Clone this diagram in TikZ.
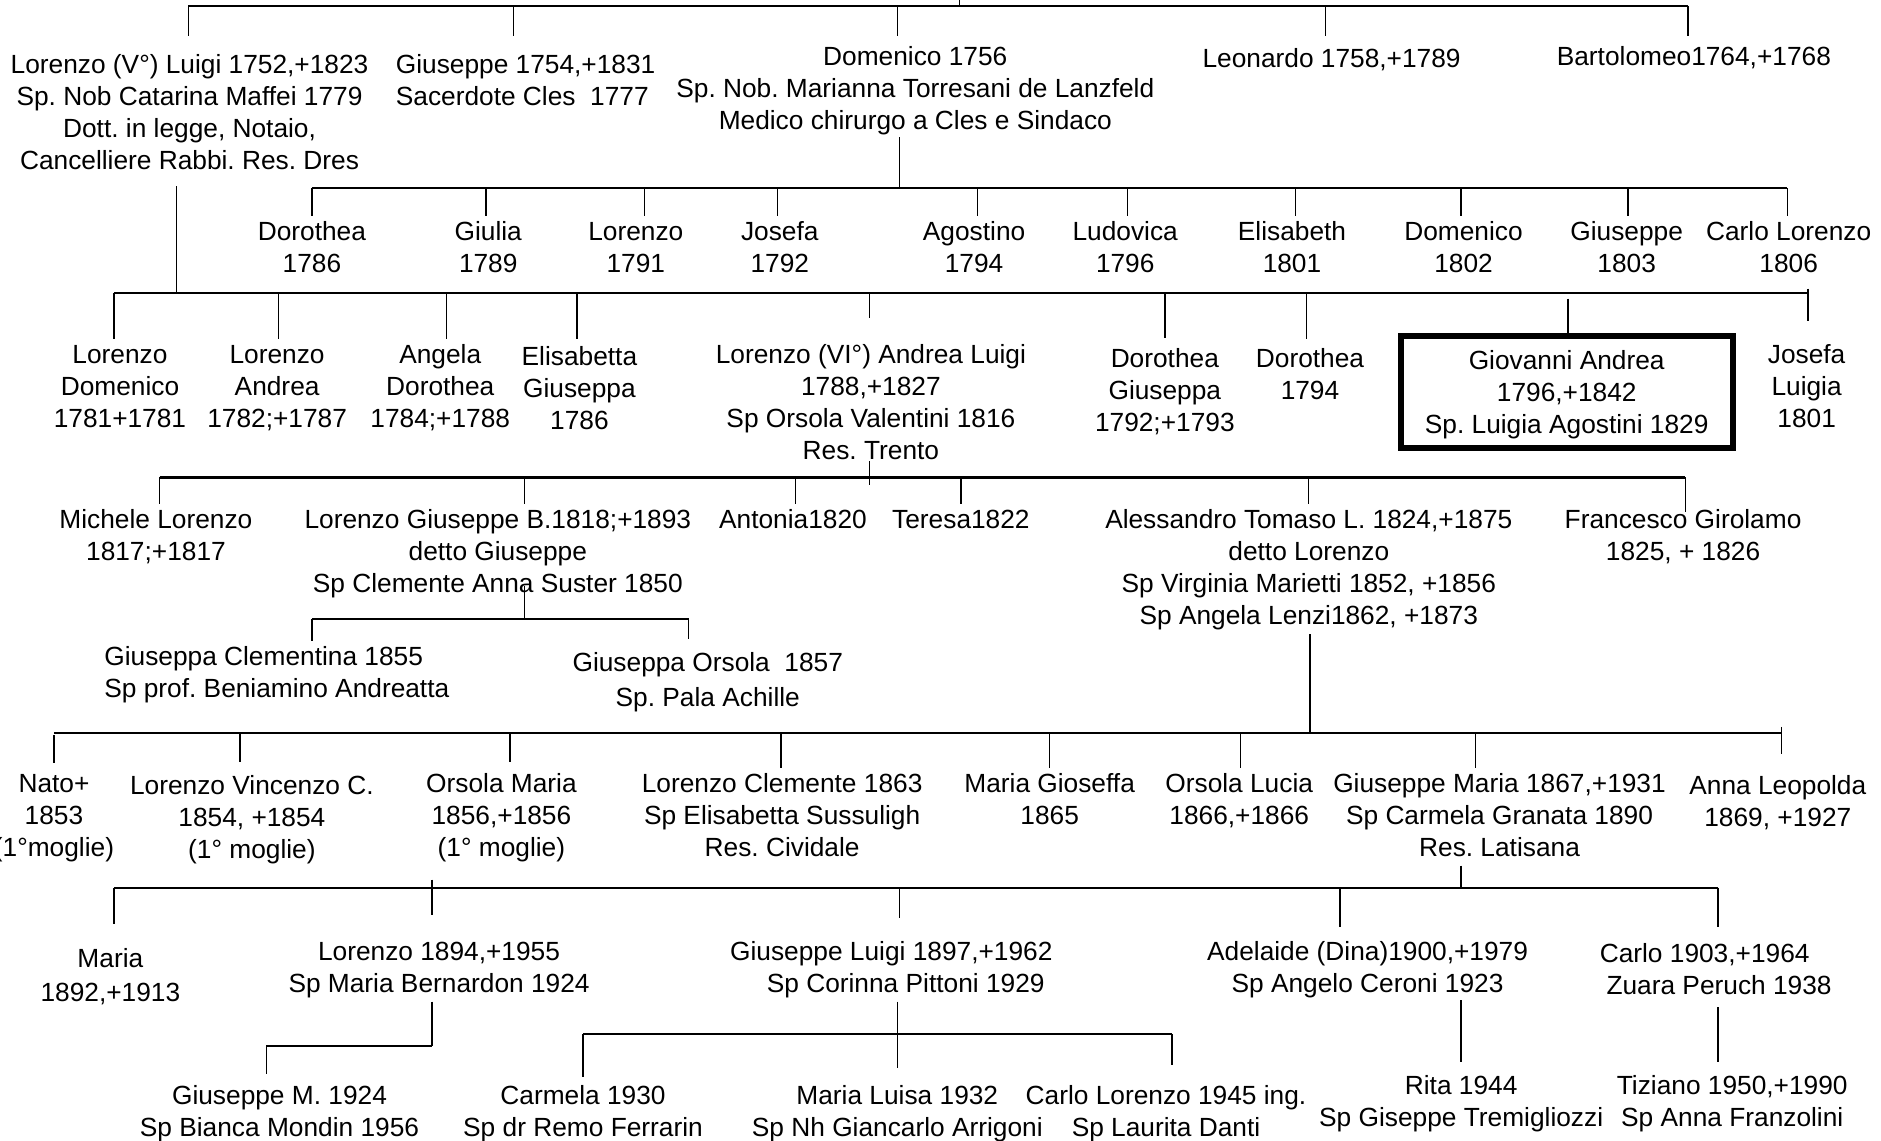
\documentclass[tikz,border=0pt]{standalone}
\usepackage{fontspec}
\setmainfont{Liberation Sans}
\frenchspacing
\newcommand\firstln{\rule{0pt}{24.4pt}}
\begin{document}
\begin{tikzpicture}[x=1.2pt,y=-1.2pt,
  every node/.style={font=\fontsize{26.3}{32}\selectfont\frenchspacing, inner sep=0pt, outer sep=0pt, align=center},
  person/.style={anchor=north},
  famline/.style={line width=2.2pt},
  conn/.style={line width=1.4pt},
  markbox/.style={draw, line width=6pt, minimum width=332pt, minimum height=112pt, outer sep=3pt}
]
\useasboundingbox (0,0) rectangle (1568,951);
\clip (0,0) rectangle (1568,951);

% ---------- generation 1
\node[person] (lv) at (158,41.3) {\firstln Lorenzo (V°) Luigi 1752,+1823\\Sp. Nob Catarina Maffei 1779\\Dott. in legge, Notaio,\\Cancelliere Rabbi. Res. Dres};
\node[person,anchor=north west,align=left] (gs) at (330,41.3) {\firstln Giuseppe 1754,+1831\\Sacerdote Cles~~1777};
\node[person] (dm) at (763,34.3) {\firstln Domenico 1756\\Sp. Nob. Marianna Torresani de Lanzfeld\\Medico chirurgo a Cles e Sindaco};
\node[person] (le) at (1110,36.3) {\firstln Leonardo 1758,+1789};
\node[person] (ba) at (1412,34.3) {\firstln Bartolomeo1764,+1768};

\coordinate (p0) at (800,0);
\coordinate (h0a) at (157,5);
\coordinate (h0b) at (428,5);
\coordinate (h0c) at (748,5);
\coordinate (h0d) at (1105,5);
\coordinate (h0e) at (1407,5);
\draw[famline] (h0a) -- (h0e);
\draw[conn] (p0) -- (p0 |- h0a);
\draw[conn,shorten >=13.6pt] (h0a) -- (h0a |- lv.north);
\draw[conn,shorten >=13.6pt] (h0b) -- (h0b |- gs.north);
\draw[conn,shorten >=5.2pt] (h0c) -- (h0c |- dm.north);
\draw[conn,shorten >=7.6pt] (h0d) -- (h0d |- le.north);
\draw[conn,shorten >=5.2pt] (h0e) -- (h0e |- ba.north);

% ---------- children of Domenico
\node[person] (d1) at (260,180.3) {\firstln Dorothea\\1786};
\node[person] (d2) at (407,180.3) {\firstln Giulia\\1789};
\node[person] (d3) at (530,180.3) {\firstln Lorenzo\\1791};
\node[person] (d4) at (650,180.3) {\firstln Josefa\\1792};
\node[person] (d5) at (812,180.3) {\firstln Agostino\\1794};
\node[person] (d6) at (938,180.3) {\firstln Ludovica\\1796};
\node[person] (d7) at (1077,180.3) {\firstln Elisabeth\\1801};
\node[person] (d8) at (1220,180.3) {\firstln Domenico\\1802};
\node[person] (d9) at (1356,180.3) {\firstln Giuseppe\\1803};
\node[person] (d10) at (1491,180.3) {\firstln Carlo Lorenzo\\1806};

\coordinate (h1x) at (750,157);
\coordinate (h1a) at (260,157);
\coordinate (h1b) at (405,157);
\coordinate (h1c) at (537,157);
\coordinate (h1d) at (648,157);
\coordinate (h1e) at (815,157);
\coordinate (h1f) at (940,157);
\coordinate (h1g) at (1080,157);
\coordinate (h1h) at (1218,157);
\coordinate (h1i) at (1357,157);
\coordinate (h1j) at (1490,157);
\draw[famline] (h1a) -- (h1j);
\draw[conn,shorten <=2.4pt] (dm.south -| h1x) -- (h1x);
\draw[conn] (h1a) -- (h1a |- d1.north);
\draw[conn] (h1b) -- (h1b |- d2.north);
\draw[conn] (h1c) -- (h1c |- d3.north);
\draw[conn] (h1d) -- (h1d |- d4.north);
\draw[conn] (h1e) -- (h1e |- d5.north);
\draw[conn] (h1f) -- (h1f |- d6.north);
\draw[conn] (h1g) -- (h1g |- d7.north);
\draw[conn] (h1h) -- (h1h |- d8.north);
\draw[conn] (h1i) -- (h1i |- d9.north);
\draw[conn] (h1j) -- (h1j |- d10.north);

% ---------- children of Lorenzo (V)
\node[person] (c1) at (100,282.3) {\firstln Lorenzo\\Domenico\\1781+1781};
\node[person] (c2) at (231,282.3) {\firstln Lorenzo\\Andrea\\1782;+1787};
\node[person] (c3) at (367,282.3) {\firstln Angela\\Dorothea\\1784;+1788};
\node[person] (c4) at (483,284.3) {\firstln Elisabetta\\Giuseppa\\1786};
\node[person] (c5) at (726,282.3) {\firstln Lorenzo (VI°) Andrea Luigi\\1788,+1827\\Sp Orsola Valentini 1816\\Res. Trento};
\node[person] (c6) at (971,286.3) {\firstln Dorothea\\Giuseppa\\1792;+1793};
\node[person] (c7) at (1092,286.3) {\firstln Dorothea\\1794};
\node[markbox] (c8) at (1306,326.7) {\firstln Giovanni Andrea\\1796,+1842\\Sp. Luigia Agostini 1829};
\node[person] (c9) at (1506,282.3) {\firstln Josefa\\Luigia\\1801};

\coordinate (h2x) at (147,244);
\coordinate (h2a) at (95,244);
\coordinate (h2b) at (232,244);
\coordinate (h2c) at (372,244);
\coordinate (h2d) at (481,244);
\coordinate (h2e) at (725,244);
\coordinate (h2f) at (971,244);
\coordinate (h2g) at (1089,244);
\coordinate (h2h) at (1307,244);
\coordinate (h2i) at (1507,244);
\draw[famline] (h2a) -- (h2i);
\draw[conn,shorten <=16pt] (lv.south -| h2x) -- (h2x);
\draw[conn] (h2a) -- (h2a |- c1.north);
\draw[conn] (h2b) -- (h2b |- c2.north);
\draw[conn] (h2c) -- (h2c |- c3.north);
\draw[conn,shorten >=1.6pt] (h2d) -- (h2d |- c4.north);
\draw[conn,shorten >=20.8pt] (h2e) -- (h2e |- c5.north);
\draw[conn,shorten >=5.2pt] (h2f) -- (h2f |- c6.north);
\draw[conn,shorten >=4pt] (h2g) -- (h2g |- c7.north);
\draw[conn,shorten <=6pt] (h2h) -- (h2h |- c8.north);
\draw[conn,shorten >=17.2pt,shorten <=-4pt] (h2i) -- (h2i |- c9.north);

% ---------- children of Lorenzo (VI)
\node[person] (e1) at (130,420.3) {\firstln Michele Lorenzo\\1817;+1817};
\node[person] (e2) at (415,420.3) {\firstln Lorenzo Giuseppe B.1818;+1893\\detto Giuseppe\\Sp Clemente Anna Suster 1850};
\node[person] (e3) at (661,420.3) {\firstln Antonia1820};
\node[person] (e4) at (801,420.3) {\firstln Teresa1822};
\node[person] (e5) at (1091,420.3) {\firstln Alessandro Tomaso L. 1824,+1875\\detto Lorenzo\\Sp Virginia Marietti 1852, +1856\\Sp Angela Lenzi1862, +1873};
\node[person] (e6) at (1403,420.3) {\firstln Francesco Girolamo\\1825, + 1826};

\coordinate (h3x) at (725,398);
\coordinate (h3a) at (133,398);
\coordinate (h3b) at (437,398);
\coordinate (h3c) at (663,398);
\coordinate (h3d) at (801,398);
\coordinate (h3e) at (1091,398);
\coordinate (h3f) at (1405,398);
\draw[famline] (h3a) -- (h3f);
\draw[conn,shorten <=2pt,shorten >=-8pt] (c5.south -| h3x) -- (h3x);
\draw[conn] (h3a) -- (h3a |- e1.north);
\draw[conn] (h3b) -- (h3b |- e2.north);
\draw[conn] (h3c) -- (h3c |- e3.north);
\draw[conn] (h3d) -- (h3d |- e4.north);
\draw[conn] (h3e) -- (h3e |- e5.north);
\draw[conn,shorten >=-8pt] (h3f) -- (h3f |- e6.north);

% ---------- children of Lorenzo Giuseppe
\node[person,anchor=north west,align=left] (f1) at (87,534.3) {\firstln Giuseppa Clementina 1855\\Sp prof. Beniamino Andreatta};
\node[person] (f2) at (590,539.3) {\firstln Giuseppa Orsola~~1857\\[2.8pt]Sp. Pala Achille};

\coordinate (h4x) at (437,516);
\coordinate (h4a) at (260,516);
\coordinate (h4b) at (574,516);
\draw[famline] (h4a) -- (h4b);
\draw[conn,shorten <=-12pt] (e2.south -| h4x) -- (h4x);
\draw[conn] (h4a) -- (h4a |- f1.north);
\draw[conn,shorten >=7.6pt] (h4b) -- (h4b |- f2.north);

% ---------- children of Alessandro
\node[person] (g1) at (45,640.3) {\firstln Nato+\\1853\\(1°moglie)};
\node[person] (g2) at (210,642.3) {\firstln Lorenzo Vincenzo C.\\1854, +1854\\(1° moglie)};
\node[person] (g3) at (418,640.3) {\firstln Orsola Maria\\1856,+1856\\(1° moglie)};
\node[person] (g4) at (652,640.3) {\firstln Lorenzo Clemente 1863\\Sp Elisabetta Sussuligh\\Res. Cividale};
\node[person] (g5) at (875,640.3) {\firstln Maria Gioseffa\\1865};
\node[person] (g6) at (1033,640.3) {\firstln Orsola Lucia\\1866,+1866};
\node[person] (g7) at (1250,640.3) {\firstln Giuseppe Maria 1867,+1931\\Sp Carmela Granata 1890\\Res. Latisana};
\node[person] (g8) at (1482,642.3) {\firstln Anna Leopolda\\1869, +1927};

\coordinate (h5x) at (1092,611);
\coordinate (h5a) at (45,611);
\coordinate (h5b) at (200,611);
\coordinate (h5c) at (425,611);
\coordinate (h5d) at (651,611);
\coordinate (h5e) at (875,611);
\coordinate (h5f) at (1034,611);
\coordinate (h5g) at (1230,611);
\coordinate (h5h) at (1485,611);
\draw[famline] (h5a) -- (h5h);
\draw[conn,shorten <=4pt] (e5.south -| h5x) -- (h5x);
\draw[conn,shorten <=2.4pt,shorten >=5pt] (h5a) -- (h5a |- g1.north);
\draw[conn,shorten >=8.8pt] (h5b) -- (h5b |- g2.north);
\draw[conn,shorten >=6.4pt] (h5c) -- (h5c |- g3.north);
\draw[conn] (h5d) -- (h5d |- g4.north);
\draw[conn] (h5e) -- (h5e |- g5.north);
\draw[conn] (h5f) -- (h5f |- g6.north);
\draw[conn] (h5g) -- (h5g |- g7.north);
\draw[conn,shorten >=17pt,shorten <=-6pt] (h5h) -- (h5h |- g8.north);

% ---------- children of Giuseppe Maria
\node[person] (k1) at (92,786.3) {\firstln Maria\\[1.6pt]1892,+1913};
\node[person] (k2) at (366,780.3) {\firstln Lorenzo 1894,+1955\\Sp Maria Bernardon 1924};
\node[person] (k3) at (748,780.3) {\firstln Giuseppe Luigi 1897,+1962\hspace*{12pt}\\\hspace*{16.8pt}Sp Corinna Pittoni 1929};
\node[person] (k4) at (1140,780.3) {\firstln Adelaide (Dina)1900,+1979\\Sp Angelo Ceroni 1923};
\node[person] (k5) at (1428,782.3) {\firstln Carlo 1903,+1964\hspace*{16.8pt}\\\hspace*{12pt}Zuara Peruch 1938};

\coordinate (h6x) at (1218,740);
\coordinate (h6a) at (95,740);
\coordinate (h6b) at (360,740);
\coordinate (h6c) at (750,740);
\coordinate (h6d) at (1117,740);
\coordinate (h6e) at (1432,740);
\draw[famline] (h6a) -- (h6e);
\draw[conn,shorten <=9pt] (g7.south -| h6x) -- (h6x);
\draw[conn,shorten >=19.6pt] (h6a) -- (h6a |- k1.north);
\draw[conn,shorten >=20.8pt,shorten <=-8pt] (h6b) -- (h6b |- k2.north);
\draw[conn,shorten >=18.4pt] (h6c) -- (h6c |- k3.north);
\draw[conn,shorten >=8.8pt] (h6d) -- (h6d |- k4.north);
\draw[conn,shorten >=11.2pt] (h6e) -- (h6e |- k5.north);

% ---------- grandchildren
\node[person] (m1) at (233,900.3) {\firstln Giuseppe M. 1924\\Sp Bianca Mondin 1956};
\node[person] (n1) at (486,900.3) {\firstln Carmela 1930\\Sp dr Remo Ferrarin};
\node[person] (n2) at (748,900.3) {\firstln Maria Luisa 1932\\Sp Nh Giancarlo Arrigoni};
\node[person] (n3) at (972,900.3) {\firstln Carlo Lorenzo 1945 ing.\\Sp Laurita Danti};
\node[person] (r1) at (1218,892.3) {\firstln Rita 1944\\Sp Giseppe Tremigliozzi};
\node[person] (t1) at (1444,892.3) {\firstln Tiziano 1950,+1990\\Sp Anna Franzolini};

\coordinate (h7x) at (360,872);
\coordinate (h7a) at (222,872);
\draw[famline] (h7a) -- (h7x);
\draw[conn,shorten <=3.6pt] (k2.south -| h7x) -- (h7x);
\draw[conn,shorten >=6.4pt] (h7a) -- (h7a |- m1.north);

\coordinate (h8a) at (486,862);
\coordinate (h8b) at (977,862);
\draw[famline] (h8a) -- (h8b);
\draw[conn,shorten <=3.6pt,shorten >=12.4pt] (k3.south) -- (n2.north);
\draw[conn,shorten >=2.8pt] (h8a) -- (h8a |- n1.north);
\draw[conn,shorten >=14.8pt] (h8b) -- (h8b |- n3.north);

\coordinate (h9a) at (1432,0);
\draw[conn,shorten <=2.4pt,shorten >=8.8pt] (k4.south -| r1.north) -- (r1.north);
\draw[conn,shorten <=12pt,shorten >=8.8pt] (k5.south -| h9a) -- (t1.north -| h9a);
\end{tikzpicture}
\end{document}
